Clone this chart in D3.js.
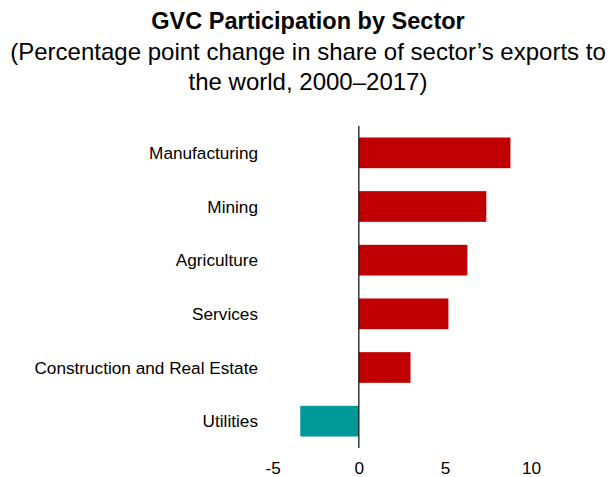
<!DOCTYPE html>
<html>
<head>
<meta charset="utf-8">
<script src="https://cdn.jsdelivr.net/npm/d3@7"></script>
<style>
  html, body { margin: 0; padding: 0; background: #fff; }
  svg { display: block; font-family: "Liberation Sans", Arial, sans-serif; }
</style>
</head>
<body>
<svg id="chart" width="616" height="477"></svg>
<script>
// Sectors, top to bottom
const sectors = ["Manufacturing", "Mining", "Agriculture", "Services", "Construction and Real Estate", "Utilities"];
// Percentage point change, 2000–2017
const changes = [8.8, 7.4, 6.3, 5.2, 3.0, -3.4];
// Axis ticks
const tickValues = [-5, 0, 5, 10];

const titleText = "GVC Participation by Sector";
const subtitleLines = [
  "(Percentage point change in share of sector\u2019s exports to",
  "the world, 2000\u20132017)"
];

const data = sectors.map((s, i) => ({ sector: s, value: changes[i] }));

const svg = d3.select("#chart");
const W = 616;

const x = d3.scaleLinear().domain([-5, 10]).range([272.7, 531.1]);
const y = d3.scaleBand().domain(sectors).range([126, 448]).paddingInner(0.428).paddingOuter(0.214);

// Title block
svg.append("text")
  .attr("x", W / 2).attr("y", 29)
  .attr("text-anchor", "middle")
  .attr("font-weight", "bold")
  .attr("font-size", 23.5)
  .attr("fill", "#000")
  .text(titleText);

svg.selectAll("text.sub")
  .data(subtitleLines)
  .enter().append("text")
  .attr("class", "sub")
  .attr("x", W / 2)
  .attr("y", (d, i) => 60 + i * 30)
  .attr("text-anchor", "middle")
  .attr("font-size", 24)
  .attr("fill", "#000")
  .text(d => d);

// Bars
svg.selectAll("rect.bar")
  .data(data)
  .enter().append("rect")
  .attr("class", "bar")
  .attr("x", d => x(Math.min(0, d.value)))
  .attr("width", d => Math.abs(x(d.value) - x(0)))
  .attr("y", d => y(d.sector))
  .attr("height", y.bandwidth())
  .attr("fill", d => d.value >= 0 ? "#C00000" : "#009999");

// Zero line
svg.append("line")
  .attr("x1", x(0)).attr("x2", x(0))
  .attr("y1", y.range()[0]).attr("y2", y.range()[1])
  .attr("stroke", "#1a1a1a")
  .attr("stroke-width", 1.3);

// Category labels
svg.selectAll("text.cat")
  .data(data)
  .enter().append("text")
  .attr("class", "cat")
  .attr("x", 258)
  .attr("y", d => y(d.sector) + y.bandwidth() / 2)
  .attr("dy", "0.35em")
  .attr("text-anchor", "end")
  .attr("font-size", 17.2)
  .attr("fill", "#000")
  .text(d => d.sector);

// Value axis (labels only)
const xAxis = d3.axisBottom(x).tickValues(tickValues).tickSize(0).tickPadding(0).tickFormat(d => String(d));
const gx = svg.append("g")
  .attr("transform", "translate(0,474)")
  .call(xAxis);
gx.select(".domain").remove();
gx.selectAll("text")
  .attr("font-size", 17.2)
  .attr("font-family", "Liberation Sans, Arial, sans-serif")
  .attr("fill", "#000")
  .attr("dy", 0);
</script>
</body>
</html>
